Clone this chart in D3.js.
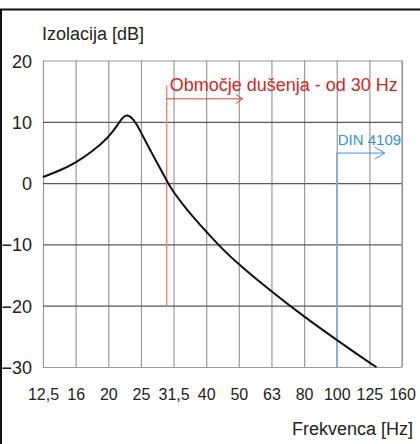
<!DOCTYPE html>
<html>
<head>
<meta charset="utf-8">
<script src="https://cdn.jsdelivr.net/npm/d3@7"></script>
<style>
	body { margin: 0; background: #fff; }
	svg { display: block; font-family: 'Liberation Sans', Arial, sans-serif; }
</style>
</head>
<body>
<svg id="chart" width="420" height="444"></svg>
<script>
// third-octave bands shown on the x axis
const bandLabels = ['12,5', '16', '20', '25', '31,5', '40', '50', '63', '80', '100', '125', '160']
const yTicks = [20, 10, 0, -10, -20, -30]

// curve: position in band steps, insulation in dB
const curveBand = [0, 0.5, 1, 1.5, 2, 2.29, 2.42, 2.56, 2.7, 2.85, 3, 3.28, 3.58, 3.82, 4, 4.4, 4.81, 5, 5.5, 6, 7, 8, 9, 10, 10.22]
const curveDb = [1.0, 2.0, 3.3, 5.1, 7.4, 9.5, 10.6, 11.2, 10.8, 9.8, 8.3, 5.4, 2.5, 0.1, -1.5, -4.3, -6.8, -7.9, -10.8, -13.3, -17.7, -21.8, -25.6, -29.3, -30]

// annotation values
const dampFrom = 30 // Hz
const dinFrom = 100 // Hz

const svg = d3.select('#chart')
const margin = { left: 43, right: 18, top: 60.5, bottom: 77 }
const W = 420, H = 444

// equal spacing per band -> linear scale on band index
const x = d3.scaleLinear().domain([0, bandLabels.length - 1]).range([margin.left, W - margin.right])
const y = d3.scaleLinear().domain([-30, 20]).range([H - margin.bottom, margin.top])

// band position of a frequency (log interpolation between nominal bands)
const bandFreq = bandLabels.map((d) => +d.replace(',', '.'))
function bandPos(f) {
	const i = d3.bisectRight(bandFreq, f) - 1
	if (bandFreq[i] === f) return i
	return i + Math.log(f / bandFreq[i]) / Math.log(bandFreq[i + 1] / bandFreq[i])
}

// frame
svg.append('line').attr('x1', 0).attr('x2', W).attr('y1', 9.5).attr('y2', 9.5)
	.attr('stroke', '#111').attr('stroke-width', 2)
svg.append('line').attr('x1', 1).attr('x2', 1).attr('y1', 9).attr('y2', H)
	.attr('stroke', '#111').attr('stroke-width', 2)

// vertical grid + x labels
const xAxis = svg.append('g')
	.attr('transform', `translate(0,${y(-30)})`)
	.call(d3.axisBottom(x).tickValues(d3.range(bandLabels.length))
		.tickFormat((i) => bandLabels[i]).tickSize(-(y(-30) - y(20))).tickPadding(0))
xAxis.select('.domain').remove()
xAxis.selectAll('line').attr('stroke', '#9a9a9a').attr('stroke-width', 1.2)
xAxis.selectAll('text').attr('fill', '#222').attr('font-size', 16).attr('dy', 0).attr('y', 33)
	.attr('font-family', "'Liberation Sans', Arial, sans-serif")

// horizontal grid + y labels
const yAxis = svg.append('g')
	.attr('transform', `translate(${x(0)},0)`)
	.call(d3.axisLeft(y).tickValues(yTicks).tickSize(-(x(11) - x(0))).tickPadding(0))
yAxis.select('.domain').remove()
yAxis.selectAll('line').attr('stroke', (d) => (d === 20 || d === -30 ? '#9a9a9a' : '#5a5a5a')).attr('stroke-width', 1.2)
yAxis.selectAll('text').attr('fill', '#222').attr('font-size', 18).attr('x', -11).attr('dy', 6.5)
	.attr('font-family', "'Liberation Sans', Arial, sans-serif")

// right edge of the grid
svg.append('line').attr('x1', x(11)).attr('x2', x(11)).attr('y1', y(20)).attr('y2', y(-30))
	.attr('stroke', '#9a9a9a').attr('stroke-width', 1.2)

// damping range (red)
const xr = x(bandPos(dampFrom))
svg.append('line').attr('x1', xr).attr('x2', xr).attr('y1', y(15.9)).attr('y2', y(-20))
	.attr('stroke', '#e58a80').attr('stroke-width', 1.5)
svg.append('path')
	.attr('d', `M${xr},${y(13.75)}H${xr + 76}M${xr + 69},${y(13.75) - 4.5}L${xr + 76},${y(13.75)}L${xr + 69},${y(13.75) + 5}`)
	.attr('fill', 'none').attr('stroke', '#d9463a').attr('stroke-width', 1)
svg.append('text').attr('x', xr + 3).attr('y', 91).attr('fill', '#d4261c').attr('font-size', 18)
	.text('Območje dušenja - od 30 Hz')

// DIN 4109 (blue)
const xb = x(bandPos(dinFrom))
svg.append('line').attr('x1', xb).attr('x2', xb).attr('y1', y(4.9)).attr('y2', y(-30))
	.attr('stroke', '#7fb2e3').attr('stroke-width', 1.5)
svg.append('path')
	.attr('d', `M${xb},${y(4.9)}H${xb + 48}M${xb + 38},${y(4.9) - 6}L${xb + 48},${y(4.9)}L${xb + 38},${y(4.9) + 6}`)
	.attr('fill', 'none').attr('stroke', '#3d8fdc').attr('stroke-width', 1)
svg.append('text').attr('x', xb + 1).attr('y', 145).attr('fill', '#3a8fdc').attr('font-size', 15)
	.text('DIN 4109')

// insulation curve (b-spline to keep it smooth)
const pts = curveBand.map((b, i) => [b, curveDb[i]])
svg.append('path').datum(pts)
	.attr('d', d3.line().x((d) => x(d[0])).y((d) => y(d[1])).curve(d3.curveBasis))
	.attr('fill', 'none').attr('stroke', '#111').attr('stroke-width', 2)

// axis titles
svg.append('text').attr('x', 42).attr('y', 40).attr('fill', '#222').attr('font-size', 18)
	.text('Izolacija [dB]')
svg.append('text').attr('x', 413).attr('y', 435).attr('text-anchor', 'end').attr('fill', '#222').attr('font-size', 18)
	.text('Frekvenca [Hz]')
</script>
</body>
</html>
